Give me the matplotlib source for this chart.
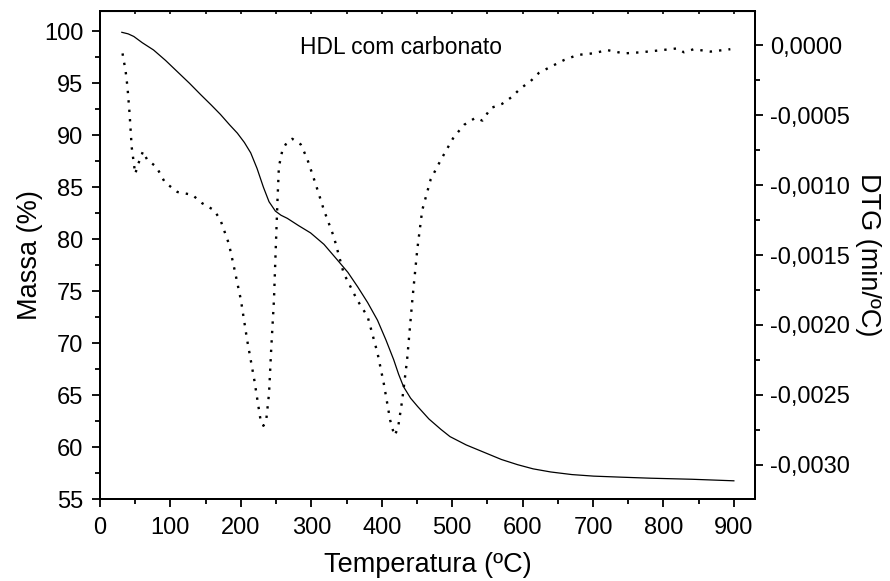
import numpy as np
import matplotlib
matplotlib.use("Agg")
import matplotlib.pyplot as plt
from matplotlib.ticker import MultipleLocator, FuncFormatter
from matplotlib.transforms import IdentityTransform

plt.rcParams['font.family'] = ['Liberation Sans', 'DejaVu Sans']

# TG curve (mass %)
tg_temp = [31, 40, 48, 60, 76, 93, 110, 127, 143, 158, 171, 184, 195, 205, 214, 223, 232,
           240, 249, 257, 266, 282, 299, 318, 337, 352, 366, 380, 394, 406, 417, 424, 431,
           441, 451, 467, 484, 497, 520, 545, 570, 593, 615, 640, 670, 701, 740, 782, 840,
           900]
tg_mass = [99.9, 99.75, 99.5, 98.9, 98.2, 97.2, 96.1, 95.0, 93.9, 92.9, 92.0, 91.0, 90.2,
           89.3, 88.3, 86.8, 85.0, 83.6, 82.7, 82.3, 82.0, 81.3, 80.6, 79.5, 78.0, 76.8,
           75.4, 73.9, 72.2, 70.3, 68.4, 67.0, 65.8, 64.7, 63.9, 62.7, 61.7, 61.0, 60.2,
           59.5, 58.8, 58.3, 57.9, 57.6, 57.35, 57.2, 57.1, 57.0, 56.9, 56.75]

# DTG curve (min/ºC)
dtg_temp = [32, 34, 36, 39, 42, 45, 50, 55, 61, 67, 80, 92, 110, 131, 145, 162, 171, 183,
            190, 200, 209, 219, 228, 232, 236, 240, 243, 247, 249.5, 252, 254, 259, 266,
            273, 285, 294, 306, 318, 332, 346, 365, 380, 394, 403, 412, 418, 423, 429, 436,
            443.5, 450.5, 457.5, 469.5, 484, 502, 517, 533, 543, 555, 571, 585, 597, 611,
            623, 640, 659, 678, 701, 720, 744, 768, 791, 820, 829, 843, 867, 895]
dtg_val = [-0.00006, -0.00012, -0.00017, -0.00030, -0.00049, -0.00073, -0.00092, -0.00084,
           -0.00076, -0.00082, -0.00087, -0.00098, -0.00105, -0.00107, -0.00113, -0.00118,
           -0.00125, -0.00142, -0.00158, -0.00182, -0.00211, -0.00239, -0.00268, -0.00272,
           -0.00268, -0.00249, -0.00218, -0.00182, -0.00146, -0.00111, -0.00087, -0.00075,
           -0.00069, -0.00067, -0.00071, -0.00081, -0.00099, -0.00118, -0.00137, -0.00163,
           -0.00182, -0.00194, -0.00220, -0.00242, -0.00268, -0.00279, -0.00274, -0.00254,
           -0.00225, -0.00182, -0.00146, -0.00118, -0.00096, -0.00082, -0.00066, -0.00057,
           -0.00052, -0.00054, -0.00045, -0.00042, -0.00037, -0.00031, -0.00026, -0.00020,
           -0.000155, -0.000107, -0.000071, -0.000059, -0.000036, -0.00006, -0.000052,
           -0.00004, -0.000024, -0.000052, -0.00003, -0.000047, -0.00003]

fig = plt.figure(figsize=(8.9, 5.81), dpi=100)
ax = fig.add_axes([100/890, 1-499/581, 655/890, 488/581])
ax2 = ax.twinx()

ax.plot(tg_temp, tg_mass, color='black', lw=0.9)
ax2.plot(dtg_temp, dtg_val, color='black', lw=1.7, linestyle=(0, (1, 3)))

ax.set_xlim(0, 930)
ax.set_ylim(55, 101.95)
ax2.set_ylim(-0.003243, 0.000243)

ax.xaxis.set_major_locator(MultipleLocator(100))
ax.xaxis.set_minor_locator(MultipleLocator(50))
ax.yaxis.set_major_locator(MultipleLocator(5))
ax.yaxis.set_minor_locator(MultipleLocator(2.5))
ax2.yaxis.set_major_locator(MultipleLocator(0.0005))
ax2.yaxis.set_minor_locator(MultipleLocator(0.00025))
ax2.yaxis.set_major_formatter(FuncFormatter(
    lambda v, p: ('%.4f' % v).replace('.', ',').replace('-0,0000', '0,0000')))

fs = 17
for a in (ax, ax2):
    for s in a.spines.values():
        s.set_linewidth(1.4)
ax.tick_params(which='major', direction='out', length=6, width=1.3, labelsize=fs, pad=6)
ax.tick_params(axis='x', which='major', pad=7)
ax.tick_params(which='minor', direction='out', length=3.5, width=1.3)
ax2.tick_params(which='major', direction='out', length=6, width=1.3, labelsize=fs, pad=5)
ax2.tick_params(which='minor', direction='out', length=3.5, width=1.3)

sec = ax.secondary_xaxis('top')
sec.set_xticks(np.arange(0, 931, 50))
sec.tick_params(direction='in', length=2.2, width=1.2, labeltop=False)
sec.xaxis.set_minor_locator(plt.NullLocator())

ax.set_xlabel('Temperatura (ºC)', fontsize=19.5, labelpad=9)
ax.set_ylabel('Massa (%)', fontsize=19.5, labelpad=1)
ax2.set_ylabel('DTG (min/ºC)', fontsize=19.5, rotation=270, labelpad=22)

fig.text(300, 581 - 47, 'HDL com carbonato', transform=IdentityTransform(),
         fontsize=16.4, va='center', ha='left')

fig.savefig('out.png', dpi=100)
